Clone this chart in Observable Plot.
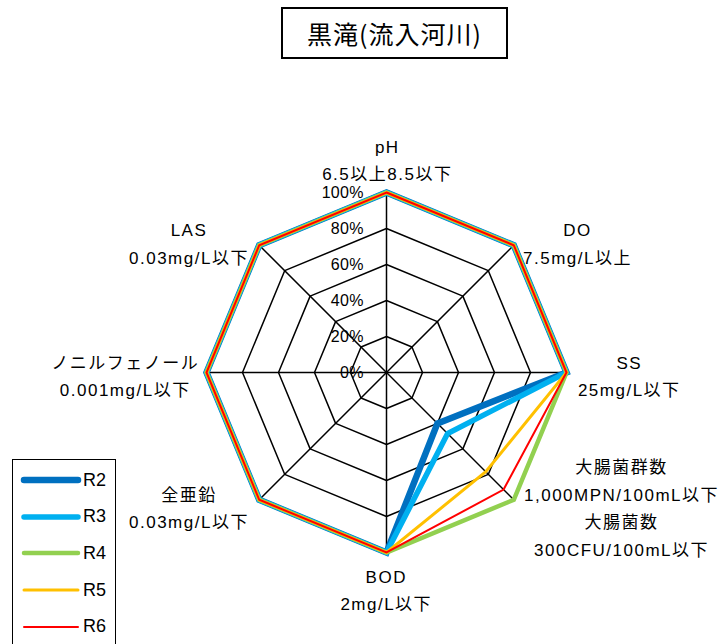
<!DOCTYPE html>
<html><head><meta charset="utf-8">
<script src="https://cdn.jsdelivr.net/npm/d3@7"></script>
<script src="https://cdn.jsdelivr.net/npm/@observablehq/plot@0.6"></script>
<style>
body{margin:0;background:#fff;}
#wrap{position:relative;width:720px;height:644px;overflow:hidden;font-family:"Liberation Sans","Noto Sans CJK JP",sans-serif;color:#000;}
#chart{position:absolute;left:0;top:0;}
#chart svg text{letter-spacing:1.5px;}
#chart svg g[text-anchor="end"] text{letter-spacing:0.3px;}
#title{position:absolute;left:281px;top:7px;width:227px;height:52px;box-sizing:border-box;border:2px solid #000;display:flex;align-items:center;justify-content:center;font-size:25px;letter-spacing:1px;font-family:"Noto Sans CJK JP",sans-serif;background:#fff;}
#legend{position:absolute;left:12px;top:459px;width:104px;height:220px;box-sizing:border-box;border:1.5px solid #000;background:#fff;}
.item{position:absolute;left:0;height:20px;display:flex;align-items:center;font-size:18px;}
.item svg{margin-left:7px;margin-right:1px;}
</style>
</head><body>
<div id="wrap">
  <div id="chart"></div>
  <div id="title"></div>
  <div id="legend"></div>
</div>
<script>
// ---- data ----
const titleText = "黒滝(流入河川)";
const axisNames = ["pH", "DO", "SS", "大腸菌群数", "BOD", "全亜鉛", "ノニルフェノール", "LAS"];
const axisLabels = [
  "pH\n6.5以上8.5以下",
  "DO\n7.5mg/L以上",
  "SS\n25mg/L以下",
  "大腸菌群数\n1,000MPN/100mL以下\n大腸菌数\n300CFU/100mL以下",
  "BOD\n2mg/L以下",
  "全亜鉛\n0.03mg/L以下",
  "ノニルフェノール\n0.001mg/L以下",
  "LAS\n0.03mg/L以下"
];
const seriesNames = ["R2", "R3", "R4", "R5", "R6"];
const R2 = [100, 100, 100, 40, 100, 100, 100, 100];
const R3 = [100, 100, 100, 48, 100, 100, 100, 100];
const R4 = [100, 100, 100, 100, 100, 100, 100, 100];
const R5 = [100, 100, 100, 78, 100, 100, 100, 100];
const R6 = [100, 100, 100, 92, 100, 100, 100, 100];
const gridLevels = [20, 40, 60, 80, 100];
const tickValues = [0, 20, 40, 60, 80, 100];

// ---- styles / layout ----
const seriesValues = [R2, R3, R4, R5, R6];
const seriesColors = ["#0070C0", "#00B0F0", "#92D050", "#FFC000", "#FF0000"];
const seriesWidths = [6.5, 5.5, 4.5, 3, 2];
const labelOffsets = [[0, -35], [63, -4], [62, 1], [107, 6], [-1, 35], [-71, 6], [-82, 1], [-71, -4]];
const W = 720, H = 644, CX = 386, CY = 372, U = 1.8;

const n = axisNames.length;
const ang = i => i * 2 * Math.PI / n;
const px = (i, v) => v * Math.sin(ang(i));
const py = (i, v) => v * Math.cos(ang(i));

const ringPts = gridLevels.flatMap(l => axisNames.map((a, i) => ({level: l, x: px(i, l), y: py(i, l)})));
const spokes = axisNames.map((a, i) => ({x1: 0, y1: 0, x2: px(i, 100), y2: py(i, 100)}));

const seriesMarks = seriesNames.map((s, k) =>
  Plot.line(seriesValues[k].map((v, i) => ({x: px(i, v), y: py(i, v)})), {
    x: "x", y: "y", curve: "linear-closed",
    stroke: seriesColors[k], strokeWidth: seriesWidths[k], strokeLinejoin: "miter", strokeMiterlimit: 10
  })
);

const labelMarks = axisLabels.map((t, i) =>
  Plot.text([t], {
    x: () => px(i, 100) + labelOffsets[i][0] / U,
    y: () => py(i, 100) - labelOffsets[i][1] / U,
    text: d => d, fontSize: 17, lineHeight: 1.62, lineAnchor: "middle", textAnchor: "middle",
    dx: 0.75, fill: "#000"
  })
);

const chart = Plot.plot({
  width: W, height: H, margin: 0,
  style: {fontFamily: '"Liberation Sans","Noto Sans CJK JP",sans-serif', background: "transparent"},
  x: {domain: [-CX / U, (W - CX) / U], range: [0, W], axis: null},
  y: {domain: [-(H - CY) / U, CY / U], range: [H, 0], axis: null},
  marks: [
    Plot.line(ringPts, {x: "x", y: "y", z: "level", curve: "linear-closed", stroke: "#000", strokeWidth: 1.5}),
    Plot.link(spokes, {x1: "x1", y1: "y1", x2: "x2", y2: "y2", stroke: "#000", strokeWidth: 1.5}),
    Plot.text(tickValues, {x: () => 0, y: d => d, text: d => d + "%", textAnchor: "end", dx: -22.7, fontSize: 16, fill: "#000"}),
    ...seriesMarks,
    ...labelMarks
  ]
});
document.getElementById("chart").appendChild(chart);

document.getElementById("title").textContent = titleText;
const legend = document.getElementById("legend");
seriesNames.forEach((s, k) => {
  const div = document.createElement("div");
  div.className = "item";
  div.style.top = (10 + k * 36.7) + "px";
  div.innerHTML = `<svg width="62" height="20"><line x1="4" x2="58" y1="10" y2="10" stroke="${seriesColors[k]}" stroke-width="${seriesWidths[k]}" stroke-linecap="round"/></svg><span></span>`;
  div.querySelector("span").textContent = s;
  legend.appendChild(div);
});
</script>
</body></html>
